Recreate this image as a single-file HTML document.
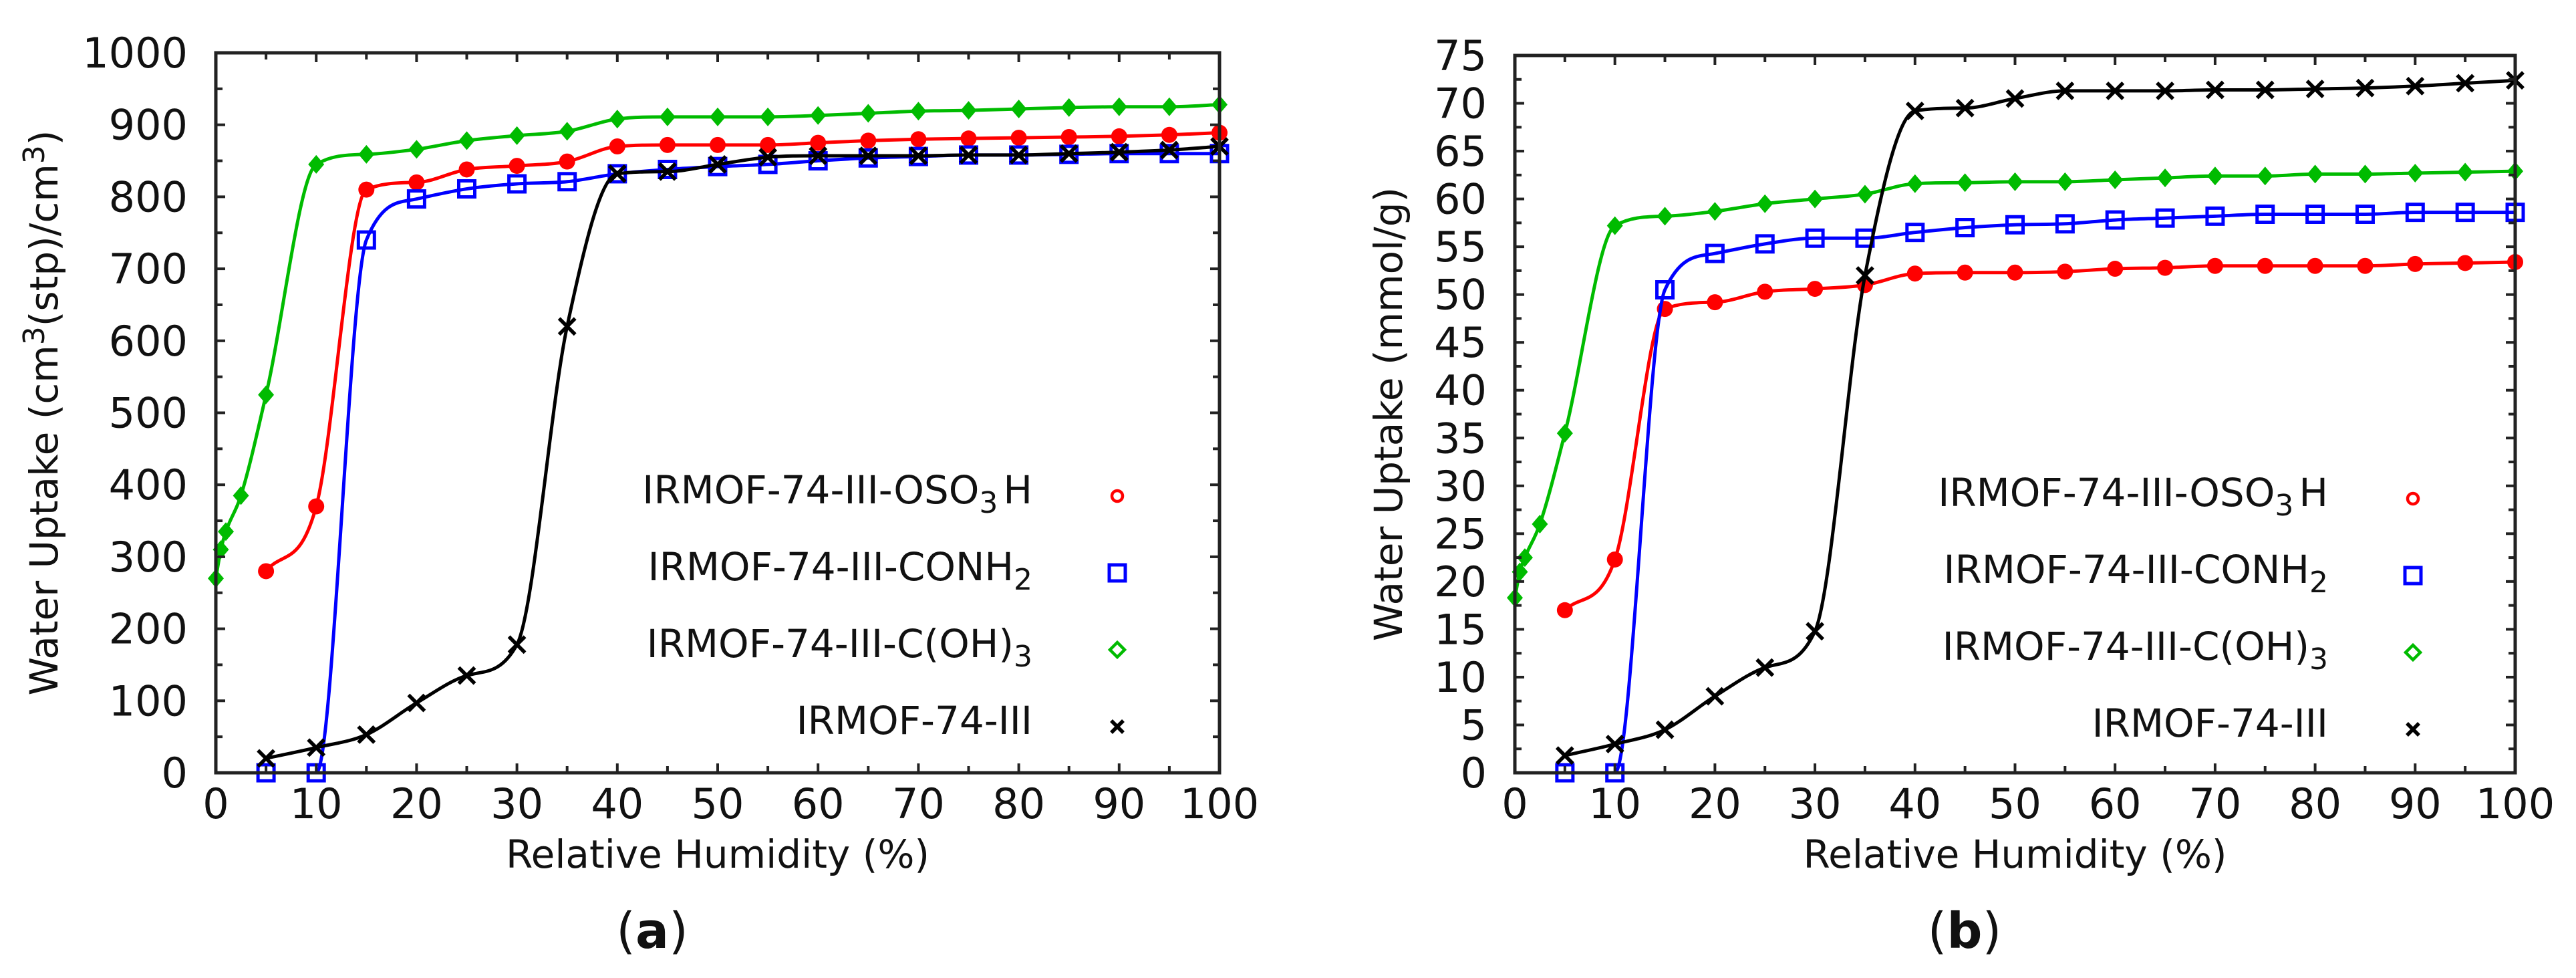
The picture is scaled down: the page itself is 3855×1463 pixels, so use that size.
<!DOCTYPE html>
<html><head><meta charset="utf-8">
<style>
html,body{margin:0;padding:0;background:#fff;}
svg{display:block;}
text{font-family:"DejaVu Sans","Liberation Sans",sans-serif;fill:#111;}
</style></head>
<body>
<svg id="fig" width="3855" height="1463" viewBox="0 0 3855 1463" xmlns="http://www.w3.org/2000/svg"></svg>
<script>
const rh = [5,10,15,20,25,30,35,40,45,50,55,60,65,70,75,80,85,90,95,100];
const rhGreen = [0,0.5,1,2.5,5,10,15,20,25,30,35,40,45,50,55,60,65,70,75,80,85,90,95,100];
// Panel (a) cm3(stp)/cm3
const aRed   = [280,370,810,820,838,843,849,870,872,872,872,875,878,880,881,882,883,884,886,889];
const aBlue  = [0,0,740,797,811,818,821,832,838,842,845,850,854,856,858,858,859,860,860,860];
const aGreen = [270,310,335,385,525,845,859,866,878,885,891,908,911,911,911,913,916,919,920,922,924,925,925,928];
const aBlack = [20,35,53,97,135,178,620,832,835,845,855,857,857,857,858,858,860,862,865,870];
// Panel (b) mmol/g
const bRed   = [17,22.3,48.5,49.2,50.3,50.6,51,52.2,52.3,52.3,52.4,52.7,52.8,53,53,53,53,53.2,53.3,53.4];
const bBlue  = [0,0,50.5,54.3,55.3,55.9,55.9,56.5,57,57.3,57.4,57.8,58,58.2,58.4,58.4,58.4,58.6,58.6,58.6];
const bGreen = [18.3,21,22.5,26,35.5,57.2,58.2,58.7,59.5,60,60.5,61.6,61.7,61.8,61.8,62,62.2,62.4,62.4,62.6,62.6,62.7,62.8,62.9];
const bBlack = [1.8,3,4.5,8,11,14.8,52,69.2,69.5,70.5,71.3,71.3,71.3,71.4,71.4,71.5,71.6,71.8,72.1,72.4];
const xTicks = [0,10,20,30,40,50,60,70,80,90,100];
const aYTicks = [0,100,200,300,400,500,600,700,800,900,1000];
const bYTicks = [0,5,10,15,20,25,30,35,40,45,50,55,60,65,70,75];
const legendNames = ["IRMOF-74-III-OSO","IRMOF-74-III-CONH","IRMOF-74-III-C(OH)","IRMOF-74-III"];
const legendSubs = ["3","2","3",""];
const legendTail = ["H","","",""];

const NS = "http://www.w3.org/2000/svg";
const fig = document.getElementById('fig');
function mk(tag, attrs, parent){
  const e = document.createElementNS(NS, tag);
  for (const k in attrs) e.setAttribute(k, attrs[k]);
  (parent||fig).appendChild(e);
  return e;
}
function smoothPath(pts){
  const n=pts.length; if(n<2) return '';
  const d=[],m=[];
  for(let i=0;i<n-1;i++) d.push((pts[i+1][1]-pts[i][1])/(pts[i+1][0]-pts[i][0]));
  m.push(d[0]);
  for(let i=1;i<n-1;i++) m.push(d[i-1]*d[i]<=0?0:(d[i-1]+d[i])/2);
  m.push(d[n-2]);
  for(let i=0;i<n-1;i++){ if(d[i]===0){m[i]=0;m[i+1]=0;continue;}
    const a=m[i]/d[i],b=m[i+1]/d[i],s=a*a+b*b; if(s>9){const t=3/Math.sqrt(s);m[i]=t*a*d[i];m[i+1]=t*b*d[i];}}
  let p='M'+pts[0][0]+','+pts[0][1];
  for(let i=0;i<n-1;i++){const h=(pts[i+1][0]-pts[i][0])/3;
    p+=' C'+(pts[i][0]+h)+','+(pts[i][1]+m[i]*h)+' '+(pts[i+1][0]-h)+','+(pts[i+1][1]-m[i+1]*h)+' '+pts[i+1][0]+','+pts[i+1][1];}
  return p;
}
function marker(g, kind, x, y, s){
  let e;
  if(kind==='circle'){ e=mk('circle',{cx:x,cy:y,r:12*s,fill:'#f00'},g); }
  else if(kind==='circleOpen'){ e=mk('circle',{cx:x,cy:y,r:8,fill:'none',stroke:'#f00','stroke-width':4.5},g); }
  else if(kind==='square'){ e=mk('rect',{x:x-12*s,y:y-12*s,width:24*s,height:24*s,fill:'none',stroke:'#00f','stroke-width':5},g); }
  else if(kind==='diamond'){ e=mk('path',{d:`M${x},${y-14*s} L${x+12*s},${y} L${x},${y+14*s} L${x-12*s},${y} Z`,fill:'#0b0'},g); }
  else if(kind==='diamondOpen'){ e=mk('path',{d:`M${x},${y-11} L${x+11},${y} L${x},${y+11} L${x-11},${y} Z`,fill:'none',stroke:'#0b0','stroke-width':4.5},g); }
  else { e=mk('path',{d:`M${x-12*s},${y-12*s} L${x+12*s},${y+12*s} M${x+12*s},${y-12*s} L${x-12*s},${y+12*s}`,stroke:'#000','stroke-width':5.5,fill:'none'},g); }
  
  
}
function panel(opt){
  const {L,R,T,B,ymax,yTicks,minor,series,yTitle,id,label,labelX} = opt;
  const X = p => L + (p/100)*(R-L);
  const Y = v => B - (v/ymax)*(B-T);
  const g = mk('g',{});
  
  
  series.forEach(s=>{
    const pts = s.x.map((p,i)=>[X(p),Y(s.y[i])]);
    const line = mk('path',{d:smoothPath(pts),fill:'none',stroke:s.color,'stroke-width':5},g);
    
    
    pts.forEach(pt=>marker(g,s.marker,pt[0],pt[1],1));
  });
  const fr = mk('rect',{x:L,y:T,width:R-L,height:B-T,fill:'none',stroke:'#222','stroke-width':5},g);
  
  
  for(let p=0;p<=100;p+=5){
    const len = p%10===0?14:10;
    mk('line',{x1:X(p),y1:B,x2:X(p),y2:B-len,stroke:'#222','stroke-width':4},g);
    mk('line',{x1:X(p),y1:T,x2:X(p),y2:T+len,stroke:'#222','stroke-width':4},g);
  }
  xTicks.forEach(t=>{
    const tx = mk('text',{x:X(t),y:B+68,'font-size':62,'text-anchor':'middle'},g);
    tx.textContent=t;
    
    
  });
  for(let v=0; v<=ymax+1e-9; v+=minor){
    const major = yTicks.some(t=>Math.abs(t-v)<1e-9);
    const len = major?14:10;
    mk('line',{x1:L,y1:Y(v),x2:L+len,y2:Y(v),stroke:'#222','stroke-width':4},g);
    mk('line',{x1:R,y1:Y(v),x2:R-len,y2:Y(v),stroke:'#222','stroke-width':4},g);
  }
  yTicks.forEach(t=>{
    const ty = mk('text',{x:L-42,y:Y(t)+22,'font-size':62,'text-anchor':'end'},g);
    ty.textContent=t;
    
    
  });
  const xt = mk('text',{x:(L+R)/2,y:B+142,'font-size':58,'text-anchor':'middle'},g);
  xt.textContent='Relative Humidity (%)';
  
  
  const yt = mk('text',{x:0,y:0,'font-size':58,'text-anchor':'middle',transform:`translate(${opt.yTitleX},${(T+B)/2}) rotate(-90)`},g);
  yt.innerHTML = yTitle;
  
  
  const legMk = ['circleOpen','square','diamondOpen','x'];
  for(let i=0;i<4;i++){
    const by = T + 674 + i*115;
    const lt = mk('text',{x:R-280,y:by,'font-size':58,'text-anchor':'end'},g);
    let html = legendNames[i];
    if(legendSubs[i]) html += `<tspan dy="14" font-size="44">${legendSubs[i]}</tspan>`;
    if(legendTail[i]) html += `<tspan dy="-14" dx="8">${legendTail[i]}</tspan>`;
    lt.innerHTML = html;
    
    
    if(legMk[i]==='x'){
      const e=mk('path',{d:`M${R-162},${by-20} L${R-144},${by-2} M${R-144},${by-20} L${R-162},${by-2}`,stroke:'#000','stroke-width':5.5},g);
      
      
    } else marker(g,legMk[i],R-153,by-11,1);
  }
  const pl = mk('text',{x:labelX,y:1418,'font-size':74,'text-anchor':'middle','font-family':'Liberation Serif, serif'},g);
  pl.innerHTML = `(<tspan font-weight="bold">${label}</tspan>)`;
  
  
}
panel({L:323,R:1825,T:79,B:1156,ymax:1000,yTicks:aYTicks,minor:50,id:'a',label:'a',labelX:976,yTitleX:86,
  yTitle:'Water Uptake (cm<tspan dy="-20" font-size="44">3</tspan><tspan dy="20">(stp)/cm</tspan><tspan dy="-20" font-size="44">3</tspan><tspan dy="20">)</tspan>',
  series:[
    {name:'oso3h',x:rh,y:aRed,color:'#f00',marker:'circle'},
    {name:'conh2',x:rh,y:aBlue,color:'#00f',marker:'square'},
    {name:'coh3',x:rhGreen,y:aGreen,color:'#0b0',marker:'diamond'},
    {name:'irmof',x:rh,y:aBlack,color:'#000',marker:'x'}]});
panel({L:2267,R:3764,T:83,B:1156,ymax:75,yTicks:bYTicks,minor:2.5,id:'b',label:'b',labelX:2940,yTitleX:2098,
  yTitle:'Water Uptake (mmol/g)',
  series:[
    {name:'oso3h',x:rh,y:bRed,color:'#f00',marker:'circle'},
    {name:'conh2',x:rh,y:bBlue,color:'#00f',marker:'square'},
    {name:'coh3',x:rhGreen,y:bGreen,color:'#0b0',marker:'diamond'},
    {name:'irmof',x:rh,y:bBlack,color:'#000',marker:'x'}]});
</script>
</body></html>
